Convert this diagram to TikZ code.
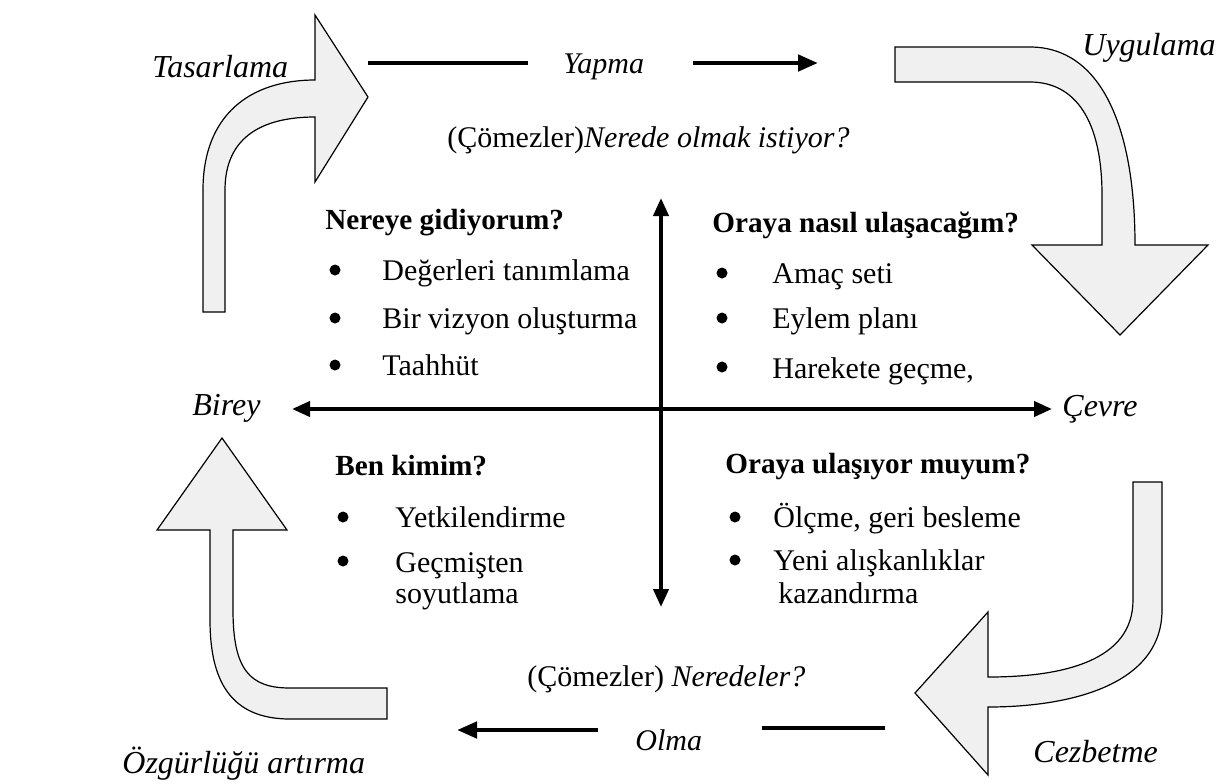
\documentclass[tikz,border=0pt]{standalone}
\usepackage{fontspec}
\setmainfont{Liberation Serif}
\usetikzlibrary{arrows.meta}
\begin{document}
\begin{tikzpicture}[x=0.5pt,y=-0.5pt,
  blockarrow/.style={draw=black,fill=gray!12,line width=0.6pt,line join=miter},
  body/.style={inner sep=0pt,anchor=base west,font=\fontsize{15}{18}\selectfont},
  head/.style={inner sep=0pt,anchor=base west,font=\fontsize{14.6}{18}\selectfont\bfseries},
  corner/.style={inner sep=0pt,anchor=base west,font=\fontsize{16}{19}\selectfont\itshape},
  mid/.style={inner sep=0pt,anchor=base west,font=\fontsize{15}{18}\selectfont},
  bulletdot/.style={circle,fill=black,inner sep=0pt,minimum size=5.5pt},
  axis/.style={line width=2pt,{Triangle[length=9pt,width=7.5pt]}-{Triangle[length=9pt,width=7.5pt]}},
  flow/.style={line width=2.3pt},
  flowarrow/.style={line width=2.3pt,-{Triangle[length=10pt,width=8pt]}}]
\useasboundingbox (0,0) rectangle (1231,783);

% ---- block arrows ----
% top-left (Tasarlama)
\draw[blockarrow] (203,312) -- (203,190) .. controls (203,115) and (250,80) .. (315,80)
  -- (315,15) -- (368,97) -- (315,182) -- (315,117)
  .. controls (265,117) and (225,135) .. (225,190) -- (225,312) -- cycle;
% top-right (Uygulama)
\draw[blockarrow] (895,47) -- (1030,47) .. controls (1100,47) and (1135,125) .. (1135,245)
  -- (1208,245) -- (1120,335) -- (1032,245) -- (1102,245) -- (1102,195)
  .. controls (1102,120) and (1075,82) .. (1030,82) -- (895,82) -- cycle;
% bottom-right (Cezbetme)
\draw[blockarrow] (1133,482) -- (1162,482) -- (1162,610)
  .. controls (1162,685) and (1070,707) .. (988,707) -- (988,775) -- (915,693)
  -- (988,612) -- (988,677) .. controls (1065,677) and (1133,660) .. (1133,600) -- cycle;
% bottom-left (Ozgurlugu artirma)
\draw[blockarrow] (210,530) -- (157,530) -- (222,438) -- (287,530) -- (233,530)
  -- (233,610) .. controls (233,670) and (250,688) .. (290,688) -- (387,688)
  -- (387,719) -- (290,719) .. controls (230,719) and (210,680) .. (210,620) -- cycle;

% ---- corner labels ----
\node[corner] (tasarlama) at (152,77) {Tasarlama};
\node[corner] (uygulama) at (1082,55) {Uygulama};
\node[corner] (cezbetme) at (1033,762) {Cezbetme};
\node[corner] (ozgurluk) at (122,773) {Özgürlüğü artırma};
\node[corner] (birey) at (192,415) {Birey};
\node[corner] (cevre) at (1062,416) {Çevre};

% ---- top flow ----
\node[mid,font=\fontsize{15}{18}\selectfont\itshape] (yapma) at (563,73) {Yapma};
\coordinate (t1) at (368,63);
\coordinate (t2) at (528,63);
\coordinate (t3) at (693,63);
\coordinate (t4) at (818,63);
\draw[flow] (t1) -- (t2);
\draw[flowarrow] (t3) -- (t4);
\node[mid] (nerede) at (447,147) {(Çömezler)\textit{Nerede olmak istiyor?}};

% ---- bottom flow ----
\node[mid] (neredeler) at (527,686) {(Çömezler) \textit{Neredeler?}};
\node[mid,font=\fontsize{15}{18}\selectfont\itshape] (olma) at (635,750) {Olma};
\coordinate (b1) at (885,728);
\coordinate (b2) at (762,728);
\coordinate (b3) at (598,730);
\coordinate (b4) at (457,730);
\draw[flow] (b1) -- (b2);
\draw[flowarrow] (b3) -- (b4);

% ---- axes ----
\coordinate (axl) at (292,409);
\coordinate (axr) at (1052,409);
\coordinate (axt) at (661,198);
\coordinate (axb) at (661,607);
\draw[axis] (axl) -- (axr);
\draw[axis] (axt) -- (axb);

% ---- quadrant: top-left ----
\node[head] (q1h) at (325,229) {Nereye gidiyorum?};
\node[bulletdot] (q1b1) at (335,270) {};
\node[body] (q1t1) at (382,280) {Değerleri tanımlama};
\node[bulletdot] (q1b2) at (335,318) {};
\node[body] (q1t2) at (382,328) {Bir vizyon oluşturma};
\node[bulletdot] (q1b3) at (335,365) {};
\node[body] (q1t3) at (382,375) {Taahhüt};

% ---- quadrant: top-right ----
\node[head] (q2h) at (712,232) {Oraya nasıl ulaşacağım?};
\node[bulletdot] (q2b1) at (722,273) {};
\node[body] (q2t1) at (772,283) {Amaç seti};
\node[bulletdot] (q2b2) at (722,318) {};
\node[body] (q2t2) at (772,328) {Eylem planı};
\node[bulletdot] (q2b3) at (722,367) {};
\node[body] (q2t3) at (772,378) {Harekete geçme,};

% ---- quadrant: bottom-left ----
\node[head] (q3h) at (335,475) {Ben kimim?};
\node[bulletdot] (q3b1) at (343,517) {};
\node[body] (q3t1) at (395,527) {Yetkilendirme};
\node[bulletdot] (q3b2) at (343,561) {};
\node[body] (q3t2) at (395,572) {Geçmişten};
\node[body] (q3t3) at (395,603) {soyutlama};

% ---- quadrant: bottom-right ----
\node[head] (q4h) at (725,473) {Oraya ulaşıyor muyum?};
\node[bulletdot] (q4b1) at (735,517) {};
\node[body] (q4t1) at (773,527) {Ölçme, geri besleme};
\node[bulletdot] (q4b2) at (735,560) {};
\node[body] (q4t2) at (773,570) {Yeni alışkanlıklar};
\node[body] (q4t3) at (778,603) {kazandırma};
\end{tikzpicture}
\end{document}
